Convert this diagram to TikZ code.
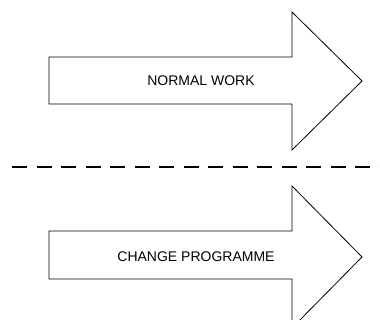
\documentclass[tikz,border=0pt]{standalone}
\usepackage{fontspec}
\setmainfont{Liberation Sans}
\begin{document}
\begin{tikzpicture}[x=1pt,y=-1pt,line width=0.8pt]
\useasboundingbox (0,0) rectangle (380,320);
\draw[fill=white] (49,57) -- (292,57) -- (292,12) -- (362,81) -- (292,150) -- (292,104) -- (49,104) -- cycle;
\node[font=\fontsize{14}{16}\selectfont] (work) at (201,81){NORMAL WORK};
\draw[line width=1.6pt, dash pattern=on 15pt off 9.5pt] (12,167) -- (380,167);
\draw[fill=white] (49,231) -- (292,231) -- (292,186) -- (362,257) -- (292,328) -- (292,279) -- (49,279) -- cycle;
\node[font=\fontsize{14}{16}\selectfont] (change) at (196,257){CHANGE PROGRAMME};
\end{tikzpicture}
\end{document}
